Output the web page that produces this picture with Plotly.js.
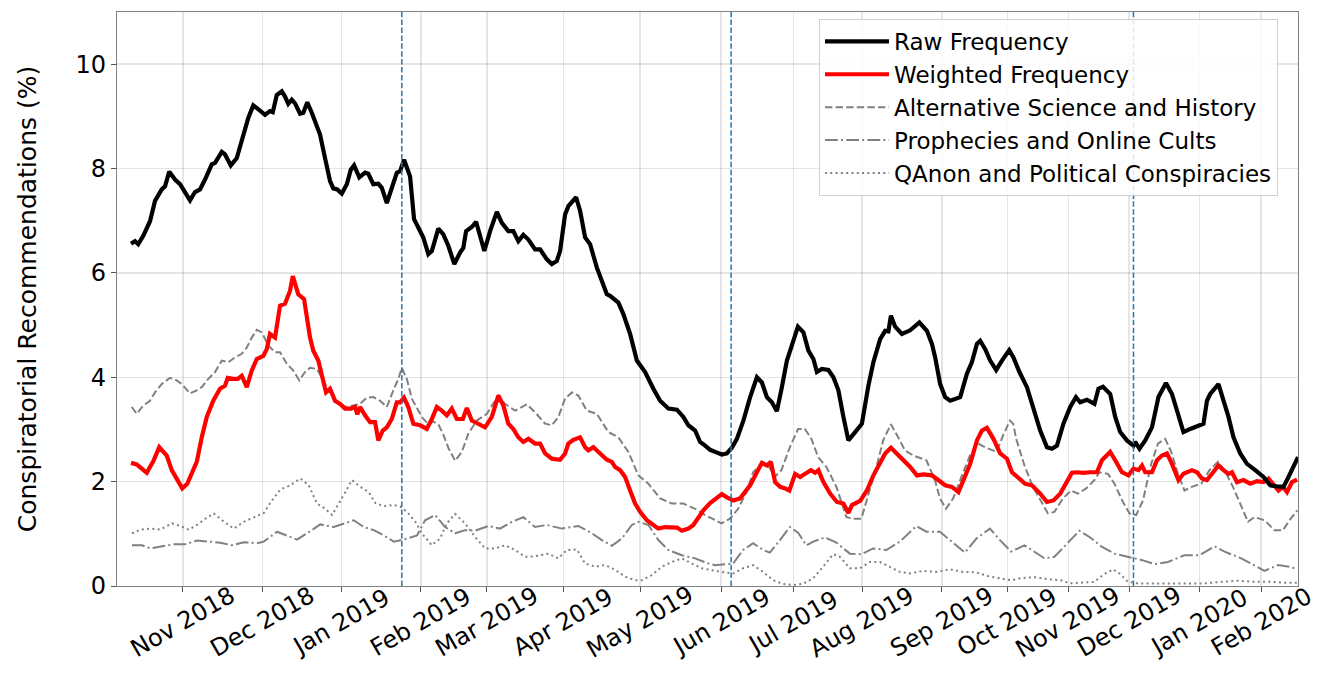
<!DOCTYPE html>
<html>
<head>
<meta charset="utf-8">
<script src="https://cdn.plot.ly/plotly-3.0.1.min.js"></script>
<style>html,body{margin:0;padding:0;background:#fff;}#chart{width:1321px;height:675px;}</style>
</head>
<body>
<div id="chart"></div>
<script>
// x = sample index (days of data, irregular calendar spacing), y = percent
const rawFrequency = [[0,6.56],[1.6,6.61],[2.9,6.55],[4.9,6.71],[7.6,6.99],[9.6,7.38],[12.3,7.60],[13.6,7.66],[15.3,7.94],[17.6,7.79],[19.6,7.70],[21.6,7.53],[23.6,7.39],[25.6,7.55],[27.6,7.60],[29.6,7.79],[32.3,8.08],[33.6,8.11],[36.3,8.32],[37.6,8.27],[39.9,8.06],[42.3,8.20],[44.9,8.65],[46.9,8.97],[48.9,9.21],[50.3,9.17],[51.6,9.11],[53.6,9.03],[55.6,9.10],[56.7,9.08],[58.3,9.41],[60.3,9.48],[61.6,9.38],[62.9,9.24],[64.3,9.32],[65.6,9.25],[67.6,9.05],[68.9,9.07],[70.5,9.27],[72.3,9.07],[74.3,8.78],[75.6,8.65],[77.6,8.20],[79.6,7.76],[80.9,7.62],[82.5,7.60],[84.3,7.52],[86.3,7.70],[87.9,7.98],[89.2,8.06],[91.3,7.83],[93.6,7.92],[94.9,7.90],[96.9,7.70],[98.9,7.71],[100.3,7.63],[102.3,7.34],[104.3,7.63],[106.3,7.92],[107.6,7.95],[109.2,8.17],[111.6,7.85],[113.2,7.03],[114.9,6.87],[116.9,6.68],[118.9,6.36],[120.3,6.42],[122.9,6.85],[124.9,6.74],[126.9,6.52],[129.3,6.17],[131.6,6.39],[132.9,6.48],[134,6.80],[136.3,6.88],[138,6.98],[139.6,6.68],[141.3,6.42],[143.6,6.80],[146.3,7.17],[148.3,6.96],[150.9,6.80],[152.9,6.80],[154.9,6.61],[156.9,6.73],[158.9,6.64],[161.6,6.45],[163.6,6.45],[166.3,6.26],[168.3,6.17],[170.3,6.23],[171.6,6.42],[173.6,7.12],[174.9,7.28],[178,7.45],[179.6,7.19],[181.6,6.68],[183.6,6.55],[186.3,6.10],[188.3,5.85],[190.3,5.59],[191.6,5.56],[194.9,5.43],[196.9,5.21],[199.6,4.83],[202.3,4.32],[205.6,4.10],[208.9,3.78],[211.6,3.55],[214.9,3.40],[218.3,3.38],[220.9,3.24],[222.9,3.08],[225.6,2.98],[227.6,2.76],[229.6,2.69],[231.6,2.61],[233.6,2.57],[236.3,2.52],[238.3,2.54],[240.3,2.65],[242.3,2.82],[244.9,3.17],[247.6,3.62],[250.3,4.00],[252.3,3.90],[254.3,3.62],[256.3,3.52],[258.3,3.35],[260.3,3.81],[262.3,4.32],[264.3,4.61],[266.7,4.97],[268.9,4.86],[270.9,4.51],[272.9,4.35],[274.3,4.10],[276.3,4.16],[278.9,4.14],[280.9,4.00],[282.9,3.75],[284.9,3.24],[286.9,2.79],[289.6,2.95],[292.3,3.11],[294.9,3.84],[296.9,4.29],[299.6,4.73],[301.6,4.89],[302.9,4.88],[303.9,5.18],[305.6,4.97],[308.3,4.83],[311.6,4.90],[313.6,4.99],[315.3,5.05],[318.3,4.89],[320.3,4.64],[321.6,4.38],[323.6,3.87],[325.6,3.62],[327.6,3.55],[331.6,3.62],[334.3,4.07],[336.3,4.29],[338.3,4.64],[339.6,4.70],[341.6,4.54],[343.6,4.32],[346,4.14],[348.3,4.32],[351.2,4.52],[352.9,4.38],[355.3,4.10],[358.3,3.81],[360.9,3.43],[363.6,2.98],[366.3,2.66],[368.3,2.63],[370.3,2.69],[372.9,3.11],[375.6,3.43],[377.9,3.62],[379.6,3.52],[382.3,3.57],[385.3,3.49],[386.9,3.78],[388.7,3.82],[391.6,3.68],[393.6,3.24],[395.6,2.95],[398.3,2.79],[400.9,2.69],[401.6,2.76],[403.3,2.63],[405.6,2.79],[408.3,3.04],[410.9,3.62],[412.5,3.75],[413.9,3.89],[416.3,3.68],[418.9,3.24],[420.9,2.95],[423.6,3.01],[426.9,3.08],[428.9,3.11],[430.3,3.55],[431.6,3.68],[434.9,3.87],[436.9,3.55],[438.9,3.24],[440.9,2.85],[443.6,2.54],[446.3,2.34],[448.3,2.28],[449.6,2.22],[452.9,2.09],[455.6,1.93],[458.3,1.91],[460.9,1.90],[462.9,2.09],[464.9,2.28],[466.7,2.47]];

const weightedFrequency = [[0,2.36],[2.3,2.33],[4.3,2.25],[6.3,2.17],[7.6,2.28],[8.9,2.39],[11.3,2.66],[14.3,2.50],[16.3,2.22],[18.5,2.03],[20.5,1.87],[22.5,1.96],[24.3,2.15],[26.3,2.38],[28.3,2.85],[30.3,3.24],[32.9,3.55],[35.6,3.78],[37.6,3.84],[38.7,3.99],[40.9,3.97],[42.7,3.97],[44.3,4.03],[46.3,3.81],[48.3,4.13],[50.3,4.35],[52.9,4.41],[54.3,4.54],[55.6,4.83],[57.6,4.76],[59.6,5.37],[61.6,5.41],[63.6,5.66],[64.7,5.94],[66.9,5.59],[69.2,5.50],[71.6,4.76],[72.9,4.51],[74.9,4.32],[76.7,4.00],[78,3.71],[79.6,3.78],[81.6,3.55],[83.6,3.49],[85.6,3.40],[87.9,3.40],[89.6,3.43],[90.5,3.29],[91.6,3.43],[93.6,3.27],[95.6,3.14],[97.6,3.14],[98.9,2.79],[100.7,2.98],[102.3,3.04],[104.3,3.20],[106.3,3.52],[107.6,3.52],[109.2,3.61],[110.9,3.43],[112.9,3.11],[115.6,3.08],[118.3,3.01],[120.3,3.20],[122.3,3.43],[124.3,3.36],[126.3,3.27],[128.3,3.40],[130.3,3.20],[132.7,3.20],[134.3,3.41],[136.3,3.17],[138.9,3.11],[141.6,3.04],[144.3,3.24],[146.9,3.65],[148.9,3.46],[150.9,3.11],[152.9,3.01],[154.9,2.85],[156.9,2.76],[158.9,2.82],[161.6,2.73],[163.6,2.73],[165.6,2.54],[168.3,2.44],[171.6,2.42],[173.6,2.54],[174.9,2.73],[176.9,2.80],[179.6,2.85],[181.6,2.66],[182.9,2.60],[184.9,2.66],[187.6,2.54],[190.3,2.42],[192.3,2.38],[193.6,2.28],[195.6,2.22],[197.6,2.09],[199.6,1.83],[201.6,1.58],[203.6,1.42],[206.3,1.26],[208.9,1.17],[210.9,1.10],[213.6,1.13],[216.3,1.12],[218.3,1.12],[220.3,1.06],[222.9,1.10],[224.9,1.17],[226.9,1.32],[228.9,1.45],[231.6,1.59],[234.3,1.68],[236.3,1.76],[238.3,1.70],[240.9,1.64],[243.6,1.68],[245.6,1.80],[247.6,1.93],[250.3,2.18],[252.3,2.36],[254.3,2.31],[255.9,2.38],[257.6,1.99],[259.6,1.90],[261.6,1.87],[263.3,1.83],[265.6,2.15],[267.6,2.09],[269.6,2.15],[271.9,2.22],[273.6,2.17],[274.9,2.22],[276.9,1.99],[279.6,1.77],[282.3,1.61],[284.9,1.58],[286.9,1.40],[288.3,1.55],[291.6,1.63],[294.3,1.83],[296.9,2.12],[299.6,2.38],[301.6,2.54],[303.9,2.65],[306.3,2.54],[308.9,2.41],[311.6,2.28],[314.3,2.12],[316.9,2.14],[320.3,2.12],[322.9,2.03],[325.6,1.93],[328.3,1.90],[330.9,1.80],[332.9,2.03],[335.6,2.34],[338.3,2.79],[340.3,2.98],[342.3,3.03],[344.9,2.82],[347.6,2.54],[350.3,2.44],[352.3,2.18],[354.9,2.06],[357.6,1.96],[360.3,1.93],[363.6,1.77],[366.3,1.61],[368.9,1.64],[371.6,1.77],[374.3,1.99],[376.3,2.17],[378.3,2.18],[380.9,2.17],[383.6,2.18],[386.3,2.18],[388.3,2.41],[391.6,2.57],[393.6,2.41],[396.3,2.18],[398.9,2.12],[400.9,2.25],[402.9,2.22],[404.3,2.31],[405.6,2.18],[408.3,2.18],[410.3,2.41],[412.3,2.50],[414.3,2.54],[416.3,2.34],[418.9,2.03],[420.9,2.15],[424.3,2.22],[426.3,2.18],[428.3,2.06],[430.3,2.03],[432.3,2.15],[434.9,2.31],[436.9,2.22],[438.9,2.15],[440.3,2.18],[442.3,1.99],[444.9,2.03],[447.6,1.96],[450.3,2.01],[452.9,1.99],[454.9,2.06],[456.9,1.93],[458.9,1.83],[460.7,1.90],[462.3,1.80],[464.3,1.99],[466.3,2.04]];

const altScience = [[0.3,3.43],[2.3,3.30],[4.9,3.46],[7.6,3.55],[9.6,3.71],[12.3,3.87],[15.6,3.99],[18.3,3.94],[20.3,3.87],[23.6,3.69],[26.3,3.75],[28.3,3.81],[30.9,3.97],[33.6,4.10],[36.3,4.32],[38.9,4.29],[41.6,4.38],[44.3,4.45],[46.3,4.57],[48.3,4.76],[50.3,4.91],[52.3,4.86],[54.9,4.61],[57.6,4.48],[59.6,4.48],[62.3,4.26],[64.9,4.13],[67.3,3.94],[69.6,4.10],[71.6,4.18],[74.3,4.16],[76.3,4.00],[78.3,3.81],[80.9,3.62],[83.6,3.46],[86.3,3.43],[88.9,3.46],[91.6,3.49],[94.3,3.61],[96.9,3.62],[99.6,3.55],[102.3,3.43],[104.9,3.75],[106.9,3.97],[108.3,4.18],[110.3,3.97],[112.3,3.59],[114.3,3.40],[116.3,3.24],[118.9,3.10],[120.9,3.15],[122.9,3.10],[124.9,2.90],[126.9,2.65],[129.6,2.40],[132.3,2.57],[134.9,2.92],[138.3,3.17],[142.3,3.30],[146.9,3.65],[149.6,3.49],[153.6,3.36],[158.3,3.48],[161.6,3.33],[165.6,3.11],[168.3,3.08],[170.9,3.24],[173.6,3.59],[176.3,3.71],[178.9,3.65],[182.3,3.36],[186.3,3.30],[190.9,2.95],[194.9,2.85],[198.9,2.57],[202.9,2.12],[206.9,1.96],[211.6,1.68],[216.3,1.58],[220.9,1.58],[225.6,1.48],[229.6,1.36],[233.6,1.26],[236.1,1.20],[239.5,1.29],[242.8,1.48],[246.1,1.80],[248.8,2.18],[252.1,2.34],[254.8,2.31],[257.5,2.09],[260.1,2.22],[263.5,2.66],[266.8,3.01],[269.5,3.01],[272.1,2.82],[274.8,2.47],[278.1,2.28],[282.1,1.90],[286.1,1.32],[288.8,1.29],[292.1,1.29],[294.8,1.74],[298.1,2.28],[300.8,2.79],[303.9,3.10],[306.8,2.85],[309.5,2.60],[312.8,2.50],[318.1,2.41],[321.5,2.03],[323.5,1.68],[325.9,1.48],[328.8,1.68],[332.1,2.09],[335.5,2.50],[338.8,2.73],[341.5,2.66],[346.1,2.57],[348.8,2.89],[351.5,3.17],[352.8,3.11],[354,2.82],[357.3,2.31],[360.7,1.90],[364,1.61],[366.7,1.39],[369.3,1.42],[372.7,1.68],[376,1.83],[378.7,1.77],[382,1.87],[385.3,2.03],[387.3,2.18],[390.7,2.15],[393.3,1.96],[396.7,1.61],[399.3,1.39],[402,1.36],[404.7,1.64],[408,2.34],[410.7,2.73],[413.6,2.82],[416,2.57],[418.7,2.15],[421.3,1.83],[424.7,1.91],[428,1.96],[431.3,2.22],[434.7,2.38],[437.3,2.22],[440.7,1.90],[444,1.55],[446.7,1.23],[449.3,1.32],[453.3,1.26],[457.3,1.07],[460.7,1.07],[463.3,1.26],[466.4,1.45]];

const prophecies = [[0.4,0.78],[4.4,0.78],[7.7,0.72],[11.7,0.75],[17.1,0.80],[21.7,0.80],[26.4,0.87],[31.7,0.85],[35.7,0.83],[40.4,0.78],[45.1,0.84],[50.4,0.82],[53.1,0.85],[58.4,1.04],[62.4,0.97],[66.4,0.89],[70.4,1.01],[75.7,1.18],[81.1,1.13],[85.1,1.20],[89.1,1.26],[93.1,1.13],[97.1,1.07],[101.1,0.97],[105.1,0.85],[109.1,0.89],[114.4,0.97],[117.6,1.26],[121.6,1.36],[125.6,1.13],[129.6,1.01],[133.6,1.07],[137.6,1.06],[142.9,1.15],[147.6,1.10],[152.3,1.23],[156.9,1.32],[161.6,1.13],[166.3,1.17],[172.3,1.10],[178.9,1.15],[184.3,1.01],[188.3,0.88],[192.3,0.77],[196.3,0.91],[200.3,1.17],[202.9,1.23],[206.9,1.17],[210.9,0.88],[214.9,0.69],[220.3,0.59],[225.6,0.53],[230.9,0.43],[233.6,0.40],[236.8,0.41],[240.8,0.43],[244.8,0.69],[248.8,0.82],[252.8,0.69],[255.5,0.64],[259.5,0.88],[263.5,1.13],[266.8,1.02],[270.1,0.78],[272.8,0.85],[277.5,0.93],[282.1,0.83],[287.5,0.62],[292.1,0.61],[296.8,0.72],[302.1,0.69],[307.5,0.85],[314.1,1.15],[318.1,1.04],[323.5,1.04],[328.8,0.82],[333.5,0.64],[338.1,0.91],[343.5,1.10],[347.5,0.88],[352,0.66],[357.3,0.78],[361.3,0.66],[365.3,0.53],[369.3,0.56],[374.7,0.82],[379.3,1.06],[383.3,0.94],[388,0.76],[393.3,0.62],[398.7,0.56],[404,0.50],[409.3,0.42],[414.7,0.46],[421.3,0.59],[427.3,0.59],[433.3,0.76],[437.3,0.66],[444,0.53],[449.3,0.40],[453.3,0.29],[458.7,0.40],[463.3,0.37],[466.4,0.32]];

const qanon = [[0.4,1.01],[3.7,1.08],[7.7,1.10],[11.7,1.08],[16.4,1.20],[19.7,1.15],[23.1,1.08],[26.4,1.17],[29.7,1.29],[33.1,1.39],[36.4,1.26],[41.1,1.10],[45.1,1.23],[49.1,1.31],[53.1,1.40],[56.4,1.64],[59.7,1.85],[63.7,1.93],[67.7,2.06],[71.1,1.93],[74.4,1.58],[77.7,1.48],[80.4,1.36],[83.1,1.58],[85.7,1.80],[88.4,2.03],[91.7,1.90],[95.1,1.80],[97.7,1.59],[101.1,1.53],[105.1,1.55],[107.7,1.52],[110.4,1.42],[113.7,1.23],[116.3,1.01],[120.3,0.78],[123.6,0.91],[126.3,1.20],[129.6,1.38],[133.6,1.20],[137.6,0.94],[141.6,0.72],[145.6,0.72],[149.6,0.78],[153.6,0.69],[157.6,0.56],[161.6,0.57],[166.9,0.62],[170.9,0.53],[174.3,0.69],[178.3,0.70],[181.6,0.43],[185.6,0.37],[189.6,0.40],[193.6,0.31],[197.6,0.18],[201.6,0.11],[204.3,0.11],[208.3,0.21],[212.3,0.37],[216.3,0.46],[220.3,0.53],[224.3,0.43],[228.3,0.34],[233.6,0.29],[236.8,0.27],[240.8,0.24],[244.8,0.34],[248.8,0.40],[252.8,0.27],[256.8,0.11],[260.8,0.04],[264.8,0.02],[268.8,0.04],[272.8,0.15],[276.8,0.37],[280.8,0.61],[283.5,0.56],[287.5,0.34],[291.5,0.34],[295.5,0.46],[299.5,0.46],[303.5,0.37],[307.5,0.27],[311.5,0.24],[316.8,0.29],[322.1,0.27],[327.5,0.32],[332.8,0.27],[338.1,0.26],[343.5,0.18],[348.8,0.13],[352,0.11],[356,0.15],[361.3,0.17],[366.7,0.13],[372,0.11],[375.3,0.05],[380,0.06],[385.3,0.08],[388.7,0.21],[392.7,0.32],[395.3,0.24],[398.7,0.08],[402.7,0.05],[409.3,0.05],[416,0.05],[422.7,0.05],[429.3,0.05],[436,0.08],[442.7,0.10],[449.3,0.08],[456,0.08],[462.7,0.06],[466.4,0.06]];

const monthTickIndex = [20.7,52.5,84.1,115.9,142.3,172.9,203.6,236,264.9,292.4,324.3,350.5,374.9,399.2,427.3,452];
const monthTickLabels = ["Nov 2018","Dec 2018","Jan 2019","Feb 2019","Mar 2019","Apr 2019","May 2019","Jun 2019","Jul 2019","Aug 2019","Sep 2019","Oct 2019","Nov 2019","Dec 2019","Jan 2020","Feb 2020"];
const eventIndex = [108.3, 240, 400.9];
const yTicks = [0,2,4,6,8,10];

const FONT = "DejaVu Sans, Liberation Sans, sans-serif";
const xs = a => a.map(p => p[0]);
const ys = a => a.map(p => p[1]);

const traces = [
  {name:"QAnon and Political Conspiracies", x:xs(qanon), y:ys(qanon), mode:"lines", legendrank:5,
   line:{color:"#808080", width:2, dash:"2px,3.3px"}},
  {name:"Prophecies and Online Cults", x:xs(prophecies), y:ys(prophecies), mode:"lines", legendrank:4,
   line:{color:"#808080", width:2, dash:"12.8px,3.2px,2px,3.2px"}},
  {name:"Alternative Science and History", x:xs(altScience), y:ys(altScience), mode:"lines", legendrank:3,
   line:{color:"#808080", width:2, dash:"7.4px,3.2px"}},
  {name:"Weighted Frequency", x:xs(weightedFrequency), y:ys(weightedFrequency), mode:"lines", legendrank:2,
   line:{color:"#ff0000", width:4.2}},
  {name:"Raw Frequency", x:xs(rawFrequency), y:ys(rawFrequency), mode:"lines", legendrank:1,
   line:{color:"#000000", width:4.2}}
];

const shapes = eventIndex.map(v => ({
  type:"line", xref:"x", yref:"paper", x0:v, x1:v, y0:0, y1:1,
  line:{color:"#1f77b4", width:1.5, dash:"5.5px,2.4px"}, layer:"above"
}));

const annotations = monthTickIndex.map((v,i) => ({
  x:v, xref:"x", y:-0.063, yref:"paper", text:monthTickLabels[i], showarrow:false,
  textangle:-30, xanchor:"center", yanchor:"middle",
  font:{family:FONT, size:24, color:"#000"}
}));

const layout = {
  width:1321, height:675,
  margin:{l:117, r:23, t:12, b:89},
  paper_bgcolor:"#fff", plot_bgcolor:"#fff",
  font:{family:FONT, size:24, color:"#000"},
  showlegend:true,
  legend:{x:0.5944, y:0.988, xanchor:"left", yanchor:"top",
    bgcolor:"rgba(255,255,255,0.85)", bordercolor:"#d0d0d0", borderwidth:1,
    font:{family:FONT, size:23, color:"#000"}, itemwidth:64, tracegroupgap:0},
  xaxis:{range:[-5.6,466.7], tickmode:"array", tickvals:monthTickIndex, ticktext:monthTickLabels,
    showticklabels:false, ticks:"outside", ticklen:5, tickwidth:1, tickcolor:"#555",
    showgrid:true, gridcolor:"rgba(0,0,0,0.1)", gridwidth:1.5, zeroline:false,
    showline:true, linecolor:"#808080", linewidth:1.2, mirror:true},
  yaxis:{range:[0,11], tickmode:"array", tickvals:yTicks, ticks:"outside", ticklen:5, tickwidth:1, tickcolor:"#555",
    tickfont:{family:FONT, size:24, color:"#000"},
    showgrid:true, gridcolor:"rgba(0,0,0,0.1)", gridwidth:1.5, zeroline:false,
    showline:true, linecolor:"#808080", linewidth:1.2, mirror:true,
    title:{text:"Conspiratorial Recommendations (%)", font:{family:FONT, size:25, color:"#000"}, standoff:31}},
  shapes:shapes,
  annotations:annotations
};

Plotly.newPlot("chart", traces, layout, {displayModeBar:false, staticPlot:true});
</script>
</body>
</html>
